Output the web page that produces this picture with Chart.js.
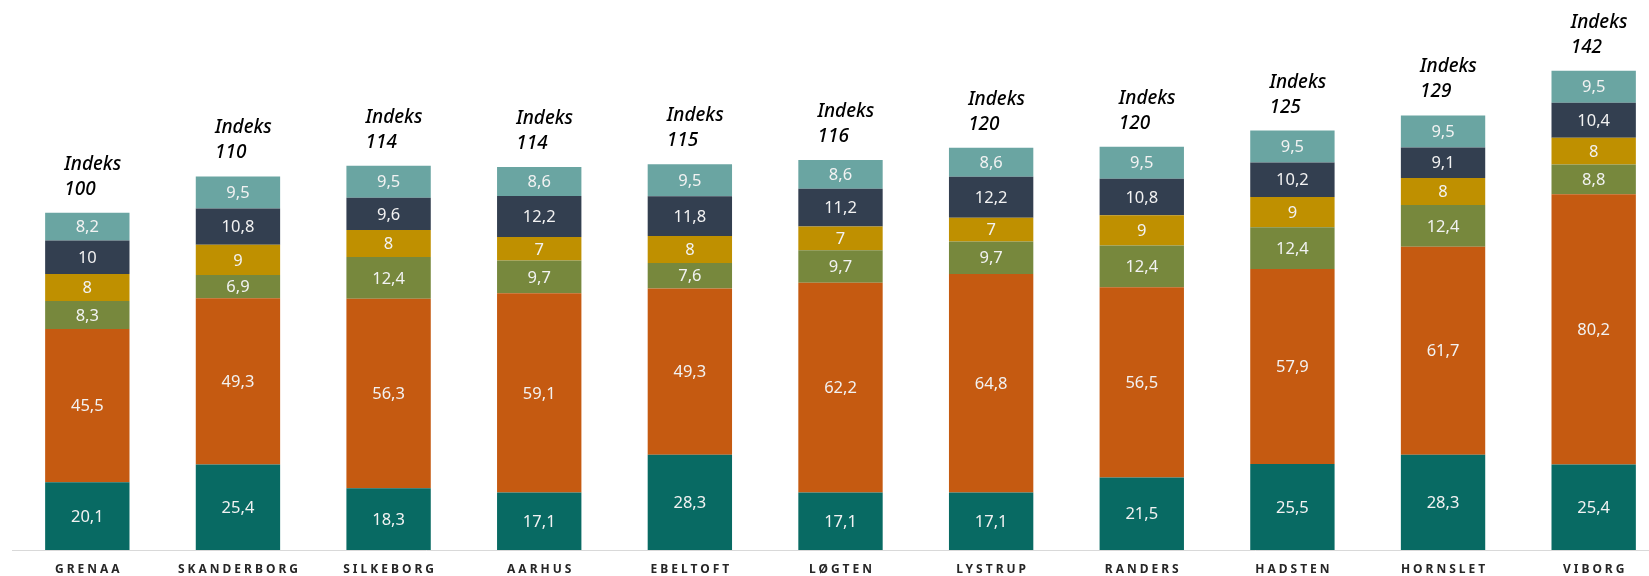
<!DOCTYPE html>
<html>
<head>
<meta charset="utf-8">
<script src="https://cdn.jsdelivr.net/npm/chart.js@4/dist/chart.umd.min.js"></script>
<style>
    html, body { margin: 0; padding: 0; background: #ffffff; overflow: hidden; }
    #wrap { position: relative; width: 1670px; height: 576px; }
</style>
</head>
<body>
<div id="wrap"><canvas id="grafico"></canvas></div>
<script>
// Byer (x-akse)
const byer = ['GRENAA', 'SKANDERBORG', 'SILKEBORG', 'AARHUS', 'EBELTOFT', 'LØGTEN', 'LYSTRUP', 'RANDERS', 'HADSTEN', 'HORNSLET', 'VIBORG'];

// Segmenter, nedefra og op
const serieTeal   = [20.1, 25.4, 18.3, 17.1, 28.3, 17.1, 17.1, 21.5, 25.5, 28.3, 25.4];
const serieOrange = [45.5, 49.3, 56.3, 59.1, 49.3, 62.2, 64.8, 56.5, 57.9, 61.7, 80.2];
const serieOliven = [8.3, 6.9, 12.4, 9.7, 7.6, 9.7, 9.7, 12.4, 12.4, 12.4, 8.8];
const serieGuld   = [8, 9, 8, 7, 8, 7, 7, 9, 9, 8, 8];
const serieNavy   = [10, 10.8, 9.6, 12.2, 11.8, 11.2, 12.2, 10.8, 10.2, 9.1, 10.4];
const serieLys    = [8.2, 9.5, 9.5, 8.6, 9.5, 8.6, 8.6, 9.5, 9.5, 9.5, 9.5];

// Indeks over hver søjle
const indeks = [100, 110, 114, 114, 115, 116, 120, 120, 125, 129, 142];

const serier = [
    { data: serieTeal, color: '#086A63' },
    { data: serieOrange, color: '#C55A11' },
    { data: serieOliven, color: '#77883D' },
    { data: serieGuld, color: '#BF9000' },
    { data: serieNavy, color: '#333F50' },
    { data: serieLys, color: '#6AA5A2' }
];

const fmt = v => String(v).replace('.', ',');

// Tal i segmenter + "Indeks" over søjler + byer under aksen
const etiketter = {
    id: 'etiketter',
    afterDatasetsDraw(chart) {
        const ctx = chart.ctx;
        ctx.save();
        ctx.textAlign = 'center';
        ctx.textBaseline = 'middle';
        ctx.fillStyle = '#F2F2F2';
        ctx.font = '16.5px "Noto Sans"';
        chart.data.datasets.forEach((ds, i) => {
            const meta = chart.getDatasetMeta(i);
            meta.data.forEach((bar, j) => {
                ctx.fillText(fmt(ds.data[j]), bar.x, (bar.y + bar.base) / 2 + 1);
            });
        });

        // indeks-tekst
        const top = chart.getDatasetMeta(chart.data.datasets.length - 1);
        ctx.textAlign = 'left';
        ctx.textBaseline = 'alphabetic';
        ctx.fillStyle = '#000000';
        ctx.font = 'italic 500 19px "Noto Sans"';
        top.data.forEach((bar, j) => {
            const x = bar.x - 23;
            ctx.fillText('Indeks', x, bar.y - 43);
            ctx.fillText(String(indeks[j]), x, bar.y - 18);
        });

        // bynavne med spatiering
        const xs = chart.scales.x;
        ctx.textAlign = 'center';
        ctx.textBaseline = 'middle';
        ctx.fillStyle = '#262626';
        ctx.font = 'bold 12px "Noto Sans"';
        ctx.letterSpacing = '3px';
        byer.forEach((b, j) => {
            ctx.fillText(b, xs.getPixelForValue(j) + 1.5, chart.chartArea.bottom + 20);
        });
        ctx.restore();
    }
};

const ctx = document.getElementById('grafico').getContext('2d');
new Chart(ctx, {
    type: 'bar',
    data: {
        labels: byer,
        datasets: serier.map(s => ({
            data: s.data,
            backgroundColor: s.color,
            borderWidth: 0,
            categoryPercentage: 1,
            barPercentage: 0.56
        }))
    },
    options: {
        responsive: true,
        maintainAspectRatio: false,
        animation: false,
        layout: { padding: { left: 12, right: 1, top: 11, bottom: 18 } },
        plugins: { legend: { display: false }, tooltip: { enabled: false } },
        scales: {
            x: {
                stacked: true,
                grid: { display: false },
                ticks: { display: false },
                border: { display: true, color: '#D9D9D9', width: 1 }
            },
            y: {
                stacked: true,
                display: false,
                min: 0,
                max: 160
            }
        }
    },
    plugins: [etiketter]
});
</script>
</body>
</html>
